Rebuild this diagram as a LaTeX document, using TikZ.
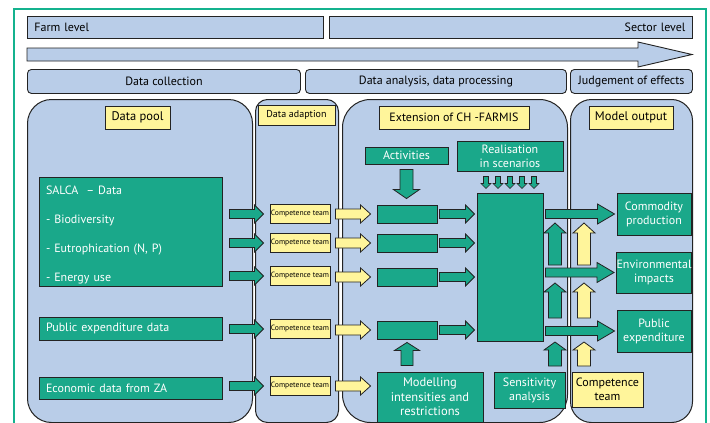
\documentclass[tikz,border=0pt]{standalone}
\usepackage{fontspec}
\setmainfont{PT Sans}
\usetikzlibrary{calc}
\definecolor{pblue}{RGB}{185,205,232}
\definecolor{tgreen}{RGB}{26,168,138}
\definecolor{fgreen}{RGB}{20,178,142}
\definecolor{lyellow}{RGB}{255,245,155}
\definecolor{edgec}{RGB}{35,35,35}
\newcommand{\harrow}[6]{\path[#1] let \p1=#2, \p2=#3 in (\x1,\y2+#4pt) -- (\x2-#6pt,\y2+#4pt) -- (\x2-#6pt,\y2+#5pt) -- (\x2,\y2) -- (\x2-#6pt,\y2-#5pt) -- (\x2-#6pt,\y2-#4pt) -- (\x1,\y2-#4pt) -- cycle;}
\newcommand{\uarrow}[6]{\path[#1] let \p1=#2, \p2=#3 in (\x1-#4pt,\y1) -- (\x1-#4pt,\y2-#6pt) -- (\x1-#5pt,\y2-#6pt) -- (\x1,\y2) -- (\x1+#5pt,\y2-#6pt) -- (\x1+#4pt,\y2-#6pt) -- (\x1+#4pt,\y1) -- cycle;}
\newcommand{\darrow}[6]{\path[#1] let \p1=#2, \p2=#3 in (\x1-#4pt,\y1) -- (\x1-#4pt,\y2+#6pt) -- (\x1-#5pt,\y2+#6pt) -- (\x1,\y2) -- (\x1+#5pt,\y2+#6pt) -- (\x1+#4pt,\y2+#6pt) -- (\x1+#4pt,\y1) -- cycle;}
\begin{document}
\begin{tikzpicture}[x=1pt,y=-1pt,
  txt/.style={font=\fontsize{12}{14}\selectfont},
  bar/.style={draw=edgec, fill=pblue, line width=0.9pt, inner ysep=0pt, minimum height=22pt, txt},
  hdr/.style={draw=edgec, fill=pblue, line width=0.9pt, rounded corners=4pt, inner sep=0pt, minimum height=24pt, txt},
  panel/.style={draw=edgec, fill=pblue, line width=1pt, inner sep=0pt},
  gbox/.style={draw=edgec, fill=tgreen, text=white, line width=0.9pt, inner sep=0pt, align=center, txt},
  gleft/.style={gbox, align=left, inner xsep=7pt, text width=169pt},
  ybox/.style={draw=edgec, fill=lyellow, line width=0.9pt, inner sep=0pt, align=center, txt},
  ctbox/.style={ybox, minimum width=60pt, minimum height=19pt, font=\fontsize{7.6}{9}\selectfont},
  mbox/.style={gbox, minimum width=60pt, minimum height=18pt},
  obox/.style={gbox, minimum width=74pt, minimum height=42pt},
  garr/.style={draw=edgec, fill=tgreen, line width=0.8pt},
  yarr/.style={draw=edgec, fill=lyellow, line width=0.8pt},
  barr/.style={draw=edgec, fill=pblue, line width=0.9pt}
]
\useasboundingbox (0,0) rectangle (710,423);
\fill[white] (0,0) rectangle (710,423);
\draw[fgreen, line width=2pt] (14,425) -- (14,9) -- (706,9) -- (706,425);

% top bars
\node[bar, anchor=north west, inner xsep=7pt, text width=282pt, align=left] (farm) at (27,16) {Farm level};
\node[bar, anchor=north west, inner xsep=7pt, text width=349pt, align=right] (sector) at (329,16) {Sector level};
\path[barr] (27,48) -- (638,48) -- (638,42) -- (692,54.5) -- (638,67) -- (638,61) -- (27,61) -- cycle;

% phase headers
\node[hdr, anchor=north west, minimum width=273pt] (dcoll) at (27,69) {Data collection};
\node[hdr, anchor=north west, minimum width=261pt] (danal) at (305,69) {Data analysis, data processing};
\node[hdr, anchor=north west, minimum width=122pt] (judge) at (570,69) {Judgement of effects};

% panels
\node[panel, rounded corners=24pt, anchor=north west, minimum width=225pt, minimum height=323pt] (pool) at (27,99) {};
\node[panel, rounded corners=12pt, anchor=north west, minimum width=83pt, minimum height=323pt] (adapt) at (255,99) {};
\node[panel, rounded corners=28pt, anchor=north west, minimum width=225pt, minimum height=323pt] (ext) at (342,99) {};
\node[panel, rounded corners=21pt, anchor=north west, minimum width=122pt, minimum height=323pt] (mout) at (570,99) {};

% panel titles
\node[ybox, minimum width=65pt, minimum height=23pt, font=\fontsize{12.5}{14}\selectfont] (tpool) at (137.5,117.5) {Data pool};
\node[ybox, minimum width=77pt, minimum height=20pt, font=\fontsize{10}{12}\selectfont] (tadapt) at (296.5,115) {Data adaption};
\node[ybox, minimum width=150pt, minimum height=23pt, font=\fontsize{12}{14}\selectfont] (text) at (454,117.5) {Extension of CH -FARMIS};
\node[ybox, minimum width=84pt, minimum height=23pt, font=\fontsize{12.5}{14}\selectfont] (tmout) at (631,117.5) {Model output};

% data pool boxes
\node[gleft, minimum height=109pt, font=\fontsize{12}{29}\selectfont] (salca) at (130.5,231.5) {\rule{0pt}{15pt}SALCA~ – Data\\- Biodiversity\\- Eutrophication (N, P)\\- Energy use};
\node[gleft, minimum height=23pt] (pubexp) at (130.5,328.5) {Public expenditure data};
\node[gleft, minimum height=22pt] (econ) at (130.5,388) {Economic data from ZA};

% competence teams
\node[ctbox] (ct1) at (300,214) {Competence team};
\node[ctbox] (ct2) at (300,243) {Competence team};
\node[ctbox] (ct3) at (300,276) {Competence team};
\node[ctbox] (ct4) at (300,329) {Competence team};
\node[ctbox] (ct5) at (300,386) {Competence team};

% extension boxes
\node[mbox] (m1) at (407,214) {};
\node[mbox] (m2) at (407,243) {};
\node[mbox] (m3) at (407,277) {};
\node[mbox] (m4) at (407,330) {};
\node[gbox, minimum width=83pt, minimum height=17pt] (act) at (406.5,155.5) {Activities};
\node[gbox, minimum width=106pt, minimum height=30pt] (real) at (510,156) {Realisation\\in scenarios};
\node[gbox, minimum width=66pt, minimum height=148pt] (big) at (510,267) {};
\node[gbox, minimum width=106pt, minimum height=50pt, font=\fontsize{12.5}{14.5}\selectfont] (model) at (430,397) {Modelling\\intensities and\\restrictions};
\node[gbox, minimum width=71pt, minimum height=36pt] (sens) at (529.5,390) {Sensitivity\\analysis};
\node[ybox, minimum width=71pt, minimum height=35pt] (cteam) at (607.5,389.5) {Competence\\team};

% outputs
\node[obox] (comm) at (654,214) {Commodity\\production};
\node[obox, minimum height=41pt] (env) at (654,272.5) {Environmental\\impacts};
\node[obox] (pub) at (654,331) {Public\\expenditure};

% arrows: data pool -> competence teams
\harrow{garr}{($(salca.east)+(7,0)$)}{($(ct1.west)+(-6,0)$)}{4.5}{9}{9}
\harrow{garr}{($(salca.east)+(7,0)$)}{($(ct2.west)+(-6,0)$)}{4.5}{9}{9}
\harrow{garr}{($(salca.east)+(7,0)$)}{($(ct3.west)+(-6,0)$)}{4.5}{9}{9}
\harrow{garr}{($(pubexp.east)+(7,0)$)}{($(ct4.west)+(-6,0)$)}{4.5}{9}{9}
\harrow{garr}{($(econ.east)+(7,0)$)}{($(ct5.west)+(-6,0)$)}{4.5}{9}{9}

% competence teams -> extension
\harrow{yarr}{($(ct1.east)+(5,0)$)}{($(m1.west)+(-6,0)$)}{5}{9}{10}
\harrow{yarr}{($(ct2.east)+(5,0)$)}{($(m2.west)+(-6,0)$)}{5}{9}{10}
\harrow{yarr}{($(ct3.east)+(5,0)$)}{($(m3.west)+(-6,0)$)}{5}{9}{10}
\harrow{yarr}{($(ct4.east)+(5,0)$)}{($(m4.west)+(-6,0)$)}{5}{9}{10}
\harrow{yarr}{($(ct5.east)+(5,0)$)}{($(model.west|-ct5.center)+(-6,0)$)}{5}{9}{10}

% extension boxes -> big box
\harrow{garr}{($(m1.east)+(2,0)$)}{($(big.west|-m1.center)+(-2,0)$)}{4.5}{9}{9}
\harrow{garr}{($(m2.east)+(2,0)$)}{($(big.west|-m2.center)+(-2,0)$)}{4.5}{9}{9}
\harrow{garr}{($(m3.east)+(2,0)$)}{($(big.west|-m3.center)+(-2,0)$)}{4.5}{9}{9}
\harrow{garr}{($(m4.east)+(2,0)$)}{($(big.west|-m4.center)+(-2,0)$)}{4.5}{9}{9}

% big box -> outputs
\harrow{garr}{($(big.east|-comm.center)+(2,0)$)}{($(comm.west)+(-2,0)$)}{4.5}{10}{17}
\harrow{garr}{($(big.east|-env.center)+(2,0)$)}{($(env.west)+(-2,0)$)}{4.5}{10}{17}
\harrow{garr}{($(big.east|-pub.center)+(2,0)$)}{($(pub.west)+(-2,0)$)}{4.5}{10}{17}

% vertical arrows
\darrow{garr}{($(act.south)+(0,5)$)}{($(m1.north)+(0,-6)$)}{6.5}{13}{9}
\foreach \i in {0,...,4} {
  \darrow{garr, line width=0.6pt}{($(real.south)+(-24+12*\i,5)$)}{($(real.south)+(-24+12*\i,17)$)}{2.5}{5}{5}
}
\uarrow{garr}{($(m4.south|-model.north)+(0,-6)$)}{($(m4.south)+(0,3)$)}{6}{12.5}{8}

\coordinate (g1b) at (555,265); \coordinate (g1t) at (555,223);
\coordinate (g2b) at (555,318); \coordinate (g2t) at (555,283);
\coordinate (g3b) at (555,366); \coordinate (g3t) at (555,342);
\coordinate (y1b) at (584,265); \coordinate (y1t) at (584,223);
\coordinate (y2b) at (584,318); \coordinate (y2t) at (584,283);
\coordinate (y3b) at (584,366); \coordinate (y3t) at (584,342);
\uarrow{garr}{(g1b)}{(g1t)}{6.5}{11}{10}
\uarrow{garr}{(g2b)}{(g2t)}{6.5}{11}{9}
\uarrow{garr}{(g3b)}{(g3t)}{6.5}{11}{8}
\uarrow{yarr}{(y1b)}{(y1t)}{6.5}{11}{10}
\uarrow{yarr}{(y2b)}{(y2t)}{6.5}{11}{9}
\uarrow{yarr}{(y3b)}{(y3t)}{6.5}{11}{8}
\end{tikzpicture}
\end{document}
